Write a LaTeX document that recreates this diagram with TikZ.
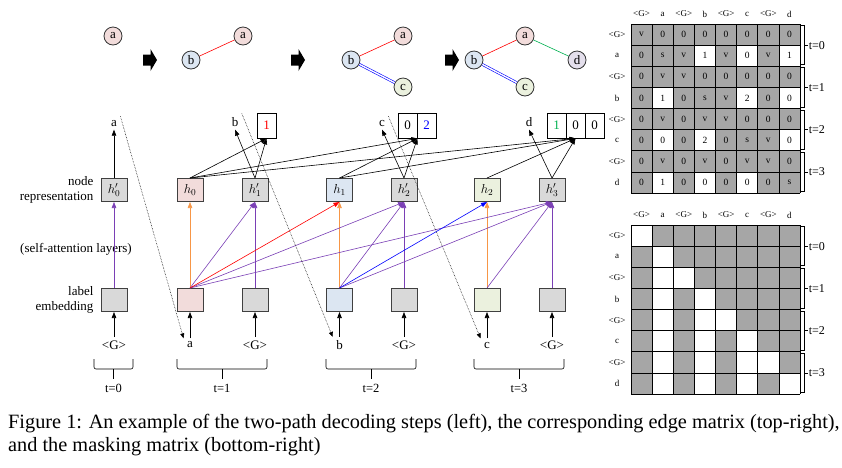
\documentclass[tikz,border=0pt]{standalone}
\usepackage{fix-cm}
\usepackage{fontspec}
\setmainfont{Liberation Serif}
\usetikzlibrary{arrows.meta,positioning}

\definecolor{nodeA}{HTML}{F2DCDB}
\definecolor{nodeB}{HTML}{DCE6F2}
\definecolor{nodeC}{HTML}{EBF1DE}
\definecolor{nodeD}{HTML}{E4DFEC}
\definecolor{boxgray}{HTML}{D9D9D9}
\definecolor{matgray}{HTML}{A6A6A6}
\definecolor{attnorange}{HTML}{F79646}
\definecolor{attnpurple}{HTML}{7A3FB5}
\definecolor{edgegreen}{HTML}{00B050}

\newcommand{\cs}{21.125}

\begin{document}
\begin{tikzpicture}[x=1pt,y=-1pt,
          every node/.style={font=\fontsize{13}{15}\selectfont},
          >={Triangle[length=6pt,width=4.5pt]},
          graphnode/.style={circle, draw=black!80, line width=0.8pt, minimum size=18pt, inner sep=0pt},
          repbox/.style={rectangle, draw=black!75, line width=1pt, minimum width=26pt, minimum height=23pt, inner sep=0pt},
          outcell/.style={rectangle, draw=black, line width=0.8pt, minimum width=19pt, minimum height=25pt, inner sep=0pt},
          celltext/.style={font=\fontsize{9.5}{11}\selectfont, inner sep=0pt},
          headtext/.style={font=\fontsize{9}{11}\selectfont, inner sep=0pt},
          attn/.style={->, line width=0.6pt},
          dottedarrow/.style={densely dotted, line width=0.55pt, -{Triangle[length=5pt,width=4pt]}}]

        \useasboundingbox (0,0) rectangle (842,467);

        % graphs decoded so far
        \node[graphnode, fill=nodeA] (ga1) at (113,36) {a};

        \node[graphnode, fill=nodeB] (gb2) at (191,60) {b};
        \node[graphnode, fill=nodeA] (ga2) at (243,36) {a};
        \draw[red, line width=0.6pt] (gb2) -- (ga2);

        \node[graphnode, fill=nodeB] (gb3) at (351,60) {b};
        \node[graphnode, fill=nodeA] (ga3) at (403,36) {a};
        \node[graphnode, fill=nodeC] (gc3) at (403,87) {c};
        \draw[red, line width=0.6pt] (gb3) -- (ga3);
        \draw[blue, double=white, double distance=1.4pt, line width=0.6pt] (gb3) -- (gc3);

        \node[graphnode, fill=nodeB] (gb4) at (474,60) {b};
        \node[graphnode, fill=nodeA] (ga4) at (525,36) {a};
        \node[graphnode, fill=nodeC] (gc4) at (525,87) {c};
        \node[graphnode, fill=nodeD] (gd4) at (577,60) {d};
        \draw[red, line width=0.6pt] (gb4) -- (ga4);
        \draw[blue, double=white, double distance=1.4pt, line width=0.6pt] (gb4) -- (gc4);
        \draw[edgegreen, line width=0.6pt] (ga4) -- (gd4);

        \foreach \x in {143,291,445}
          \fill (\x,54.5) -- ++(7.5,0) -- ++(0,-5.5) -- ++(6.5,11) -- ++(-6.5,11) -- ++(0,-5.5) -- ++(-7.5,0) -- cycle;

        % row labels
        \node[anchor=east, align=right] (lrep) at (97,190) {node\\representation};
        \node (lattn) at (76,249) {(self-attention layers)};
        \node[anchor=east, align=right] (lemb) at (97,300) {label\\embedding};

        % node representations
        \node[repbox, fill=boxgray] (r0) at (114,190)   {$h'_0$};
        \node[repbox, fill=nodeA]   (h0) at (190,190)   {$h_0$};
        \node[repbox, fill=boxgray] (r1) at (255,190)   {$h'_1$};
        \node[repbox, fill=nodeB]   (h1) at (339.5,190) {$h_1$};
        \node[repbox, fill=boxgray] (r2) at (404,190)   {$h'_2$};
        \node[repbox, fill=nodeC]   (h2) at (487,190)   {$h_2$};
        \node[repbox, fill=boxgray] (r3) at (552,190)   {$h'_3$};

        % label embeddings
        \node[repbox, fill=boxgray] (e0)  at (114,300)   {};
        \node[repbox, fill=nodeA]   (ea)  at (190,300)   {};
        \node[repbox, fill=boxgray] (eg1) at (255,300)   {};
        \node[repbox, fill=nodeB]   (eb)  at (339.5,300) {};
        \node[repbox, fill=boxgray] (eg2) at (404,300)   {};
        \node[repbox, fill=nodeC]   (ec)  at (487,300)   {};
        \node[repbox, fill=boxgray] (eg3) at (552,300)   {};

        % inputs
        \node (i0)  at (114,345)   {<G>};
        \node (ia)  at (190,345)   {a};
        \node (ig1) at (255,345)   {<G>};
        \node (ib)  at (339.5,345) {b};
        \node (ig2) at (404,345)   {<G>};
        \node (ic)  at (487,345)   {c};
        \node (ig3) at (552,345)   {<G>};

        \foreach \n in {0,a,g1,b,g2,c,g3}
          \draw[->, line width=0.7pt] (i\n) -- (e\n);

        % self-attention
        \draw[attn, attnpurple] (e0) -- (r0);
        \foreach \s/\t in {a/h0, b/h1, c/h2}
          \draw[attn, attnorange] (e\s.north) -- (\t.south);
        \foreach \s/\t in {a/r1, g1/r1, a/r2, b/r2, g2/r2, a/r3, b/r3, c/r3, g3/r3}
          \draw[attn, attnpurple] (e\s.north) -- (\t.south);
        \draw[attn, red]  (ea.north) -- (h1.south);
        \draw[attn, blue] (eb.north) -- (h2.south);

        % predicted labels
        \node[anchor=base] (pa) at (114,126) {a};
        \node[anchor=base] (pb) at (235,126) {b};
        \node[anchor=base] (pc) at (382,126) {c};
        \node[anchor=base] (pd) at (529,126) {d};

        % predicted edges
        \node[outcell] (o1)  at (266.5,125.5) {\textcolor{red}{1}};
        \node[outcell] (o2a) at (407.5,125.5) {0};
        \node[outcell] (o2b) at (426.5,125.5) {\textcolor{blue}{2}};
        \node[outcell] (o3a) at (556.5,125.5) {\textcolor{edgegreen}{1}};
        \node[outcell] (o3b) at (575.5,125.5) {0};
        \node[outcell] (o3c) at (594.5,125.5) {0};
        \coordinate (o2) at (o2a.south east);
        \coordinate (o3) at (o3b.south);

        \draw[->, line width=0.6pt] (r0.north) -- (pa.south);
        \draw[->, line width=0.6pt] (r1.north) -- (pb.south);
        \draw[->, line width=0.6pt] (r2.north) -- (pc.south);
        \draw[->, line width=0.6pt] (r3.north) -- (pd.south);
        \foreach \s/\t in {h0/o1.south, r1/o1.south, h0/o2, h1/o2, r2/o2, h0/o3, h1/o3, h2/o3, r3/o3}
          \draw[->, line width=0.6pt] (\s.north) -- (\t);

        % copy of the predicted label
        \draw[dottedarrow] (pa.north east) -- (ia.north west);
        \draw[dottedarrow] (pb.north east) -- (ib.north west);
        \draw[dottedarrow] (pc.north east) -- (ic.north west);

        % time steps
        \foreach \a/\b/\t in {94/133/0, 177/267/1, 326/416/2, 474/564/3} {
          \draw[rounded corners=2pt, line width=0.6pt] (\a,359) -- (\a,369) -- (\b,369) -- (\b,359);
          \draw[line width=0.6pt] ({(\a+\b)/2},369) -- ({(\a+\b)/2},379)
            node[below=2pt, font=\fontsize{12.5}{14}\selectfont] (ts\t) {t=\t};
        }

        % edge matrix
        \fill[matgray] (631,24) rectangle (800,193);
        \foreach \r/\c in {1/3,1/5,1/7,3/1,3/5,3/7,5/1,5/3,5/7,7/1,7/3,7/5}
          \fill[white] ({631+\c*\cs},{24+\r*\cs}) rectangle ++(\cs,\cs);
        \foreach \k in {0,...,8} {
          \draw[line width=0.6pt] ({631+\k*\cs},24) -- ++(0,169);
          \draw[line width=0.6pt] (631,{24+\k*\cs}) -- ++(169,0);
        }
        \foreach \k in {2,4,6}
          \draw[line width=1.1pt] (631,{24+\k*\cs}) -- ++(169,0);
        \foreach \row [count=\r from 0] in {{v,0,0,0,0,0,0,0},{0,s,v,1,v,0,v,1},{0,v,v,0,0,0,0,0},{0,1,0,s,v,2,0,0},
                                           {0,v,0,v,v,0,0,0},{0,0,0,2,0,s,v,0},{0,v,0,v,0,v,v,0},{0,1,0,0,0,0,0,s}}
          \foreach \v [count=\c from 0] in \row
            \node[celltext] (m\r\c) at ({631+(\c+0.5)*\cs},{24+(\r+0.5)*\cs}) {\v};

        % masking matrix
        \fill[matgray] (631,225) rectangle (800,394);
        \foreach \r/\c in {0/0,1/1,2/1,2/2,3/1,3/3,4/1,4/3,4/4,5/1,5/3,5/5,6/1,6/3,6/5,6/6,7/1,7/3,7/5,7/7}
          \fill[white] ({631+\c*\cs},{225+\r*\cs}) rectangle ++(\cs,\cs);
        \foreach \k in {0,...,8} {
          \draw[line width=0.6pt] ({631+\k*\cs},225) -- ++(0,169);
          \draw[line width=0.6pt] (631,{225+\k*\cs}) -- ++(169,0);
        }
        \foreach \k in {2,4,6}
          \draw[line width=1.1pt] (631,{225+\k*\cs}) -- ++(169,0);

        % headers and brackets of both matrices
        \foreach \top/\m in {24/e, 225/k} {
          \foreach \lab [count=\c from 0] in {<G>,a,<G>,b,<G>,c,<G>,d} {
            \node[headtext] (\m col\c) at ({631+(\c+0.5)*\cs},{\top-10}) {\lab};
            \node[headtext] (\m row\c) at (617,{\top+(\c+0.5)*\cs}) {\lab};
          }
          \foreach \g in {0,...,3} {
            \draw[line width=0.6pt] (801,{\top+2*\g*\cs+1.5}) -- (804.5,{\top+2*\g*\cs+1.5})
              -- (804.5,{\top+(2*\g+2)*\cs-1.5}) -- (801,{\top+(2*\g+2)*\cs-1.5});
            \draw[line width=0.6pt] (804.5,{\top+(2*\g+1)*\cs}) -- (808,{\top+(2*\g+1)*\cs})
              node[right=0.5pt, inner sep=0pt, font=\fontsize{12}{14}\selectfont] (\m t\g) {t=\g};
          }
        }

        % caption
        \node[anchor=base west, align=left, inner sep=0pt, font=\fontsize{20.3}{23}\selectfont] (cap) at (8,451)
          {Figure 1: An example of the two-path decoding steps (left), the corresponding edge matrix (top-right),\\
           and the masking matrix (bottom-right)};

      \end{tikzpicture}
\end{document}
